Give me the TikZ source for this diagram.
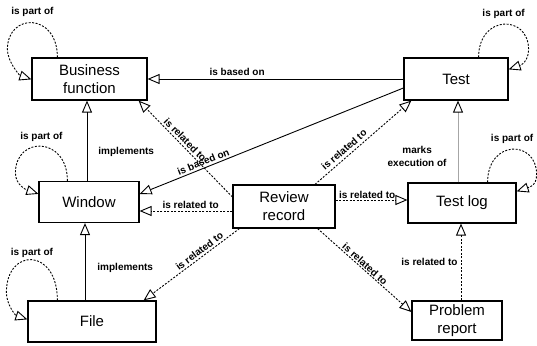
\documentclass[tikz,border=0pt]{standalone}
\usepackage{fontspec}
\setmainfont{Liberation Sans}
\usetikzlibrary{arrows.meta,calc}

% self-association loop on the upper left corner of an entity
% #1 node, #2 start offset, #3 leftmost offset, #4 end offset, #5 control height, #6 label gap
\newcommand\partofleft[6]{%
  \draw[partof] ([xshift=#2pt]#1.north west)
    .. controls ([xshift=#2pt,yshift=#5pt]#1.north west) and ([xshift=#3pt,yshift=#5pt]#1.north west)
    .. ([xshift=#3pt,yshift=8pt]#1.north west) node[lbl,pos=0.5,above=#6pt] {is part of}
    .. controls ([xshift=#3pt,yshift=-4pt]#1.north west) and ([xshift=-12pt,yshift=#4pt+4pt]#1.north west)
    .. ([yshift=#4pt]#1.north west);}
% same loop on the upper right corner
\newcommand\partofright[6]{%
  \draw[partof] ([xshift=-#2pt]#1.north east)
    .. controls ([xshift=-#2pt,yshift=#5pt]#1.north east) and ([xshift=#3pt,yshift=#5pt]#1.north east)
    .. ([xshift=#3pt,yshift=8pt]#1.north east) node[lbl,pos=0.5,above=#6pt] {is part of}
    .. controls ([xshift=#3pt,yshift=-4pt]#1.north east) and ([xshift=12pt,yshift=#4pt+4pt]#1.north east)
    .. ([yshift=#4pt]#1.north east);}

\begin{document}
\begin{tikzpicture}[x=1pt,y=1pt,
  entity/.style={draw, line width=1.2pt, fill=white, inner sep=0pt, align=center,
                 font=\fontsize{15}{18}\selectfont},
  lbl/.style={font=\fontsize{10}{13}\selectfont\bfseries, inner sep=1pt, align=center},
  rel/.style={line width=0.9pt,
              -{Triangle[open,length=12pt,width=10pt,line width=0.9pt,color=black]}},
  dotrel/.style={rel, dash pattern=on 2pt off 1.5pt},
  partof/.style={dotrel},
]
\useasboundingbox (0,0) rectangle (537,345);

% entities
\node[entity, minimum width=115pt, minimum height=42pt] (bf)      at (89.5,266)  {Business\\function};
\node[entity, minimum width=104pt, minimum height=42pt] (test)    at (456,266)   {Test};
\node[entity, minimum width=100pt, minimum height=41pt] (window)  at (89,143)    {Window};
\node[entity, minimum width=102pt, minimum height=43pt] (review)  at (284,138.5) {Review\\record};
\node[entity, minimum width=108pt, minimum height=40pt] (testlog) at (462,142)   {Test log};
\node[entity, minimum width=128pt, minimum height=41pt] (file)    at (92,23.5)   {File};
\node[entity, minimum width=90pt,  minimum height=39pt] (problem) at (457,24.5)  {Problem\\report};

% solid associations
\draw[rel] (test.west) -- (bf.east)
  node[lbl, pos=0.65, above=2pt] {is based on};
\draw[rel] ([yshift=-9pt]test.west) -- ([yshift=8pt]window.east)
  node[lbl, pos=0.75, sloped, above=1pt] {is based on};
\draw[rel] ([xshift=-2pt]window.north) -- ([xshift=-2pt]window.north |- bf.south)
  node[lbl, pos=0.36, right=10pt] {implements};
\draw[rel] ([xshift=-7pt]file.north) -- ([xshift=-7pt]file.north |- window.south)
  node[lbl, pos=0.42, right=11pt] {implements};
\draw[rel, draw=gray!70] ([xshift=-4pt]testlog.north) -- ([xshift=-4pt]testlog.north |- test.south)
  node[lbl, pos=0.32, left=10pt, text=black] {marks\\execution of};

% dotted associations of the review record
\draw[dotrel] ([yshift=9.5pt]review.west) -- ([xshift=-9pt]bf.south east)
  node[lbl, pos=0.55, sloped, above=1pt] {is related to};
\draw[dotrel] ([xshift=31pt]review.north) -- ([xshift=8pt]test.south west)
  node[lbl, pos=0.35, sloped, above=2pt] {is related to};
\draw[dotrel] ([yshift=-4.5pt]review.west) -- ([yshift=-4.5pt]review.west -| window.east)
  node[lbl, pos=0.45, above=1pt] {is related to};
\draw[dotrel] ([yshift=6.5pt]review.east) -- ([yshift=6.5pt]review.east -| testlog.west)
  node[lbl, pos=0.44, above=0pt] {is related to};
\draw[dotrel] ([xshift=7pt]review.south west) -- ([xshift=-13pt]file.north east)
  node[lbl, pos=0.38, sloped, above=1pt] {is related to};
\draw[dotrel] ([xshift=-18pt]review.south east) -- ([yshift=8.5pt]problem.west)
  node[lbl, pos=0.47, sloped, above=0pt] {is related to};
\draw[dotrel] ([xshift=4pt]problem.north) -- ([xshift=4pt]problem.north |- testlog.south)
  node[lbl, pos=0.5, left=2pt] {is related to};

% part-of loops
\partofleft{bf}{26}{-24}{-22}{45}{5}
\partofleft{window}{29}{-23}{-13}{45}{3.5}
\partofleft{file}{30}{-21}{-19}{53}{0.5}
\partofright{test}{30}{20}{-12}{43}{4.5}
\partofright{testlog}{29}{20}{-9}{43}{4.5}
\end{tikzpicture}
\end{document}
